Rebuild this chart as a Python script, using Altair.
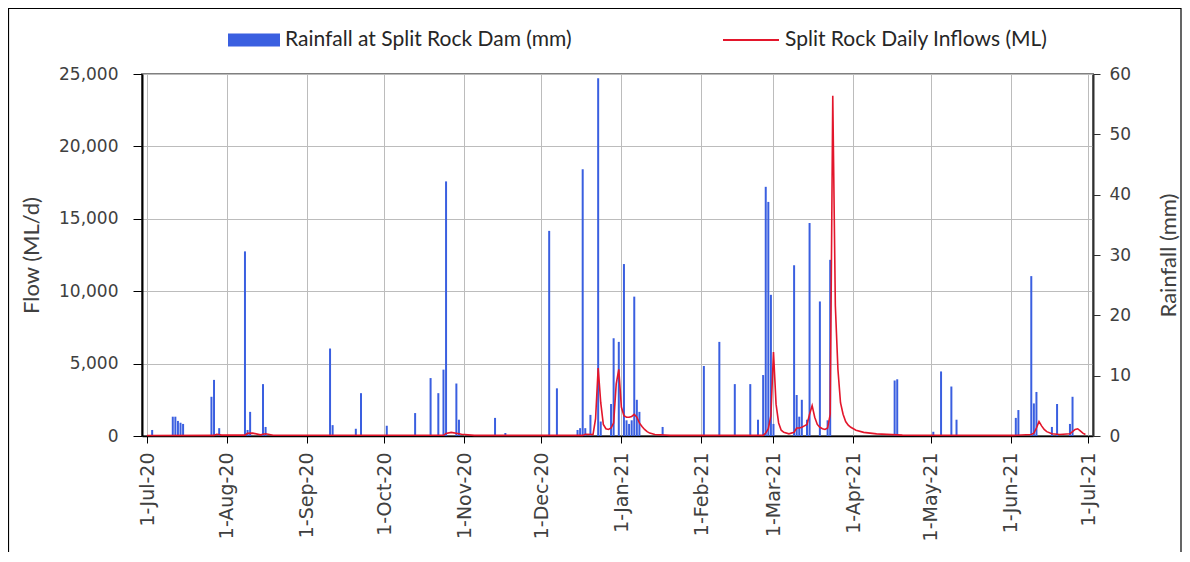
import altair as alt
import pandas as pd

# ---------------- data ----------------
rain_dates = [
    "2020-07-03", "2020-07-11", "2020-07-12", "2020-07-13", "2020-07-14", "2020-07-15",
    "2020-07-26", "2020-07-27", "2020-07-29",
    "2020-08-08", "2020-08-09", "2020-08-10", "2020-08-15", "2020-08-16",
    "2020-09-10", "2020-09-11", "2020-09-20", "2020-09-22",
    "2020-10-02", "2020-10-13", "2020-10-19", "2020-10-22", "2020-10-24", "2020-10-25",
    "2020-10-29", "2020-10-30",
    "2020-11-13", "2020-11-17",
    "2020-12-04", "2020-12-07", "2020-12-15", "2020-12-16", "2020-12-17", "2020-12-18",
    "2020-12-20", "2020-12-23", "2020-12-24", "2020-12-28", "2020-12-29", "2020-12-31",
    "2021-01-02", "2021-01-03", "2021-01-04", "2021-01-05", "2021-01-06", "2021-01-07",
    "2021-01-08", "2021-01-17",
    "2021-02-02", "2021-02-08", "2021-02-14", "2021-02-20", "2021-02-23", "2021-02-25",
    "2021-02-26", "2021-02-27", "2021-02-28",
    "2021-03-01", "2021-03-09", "2021-03-10", "2021-03-11", "2021-03-12", "2021-03-14",
    "2021-03-15", "2021-03-19", "2021-03-22", "2021-03-23",
    "2021-04-17", "2021-04-18",
    "2021-05-02", "2021-05-05", "2021-05-09", "2021-05-11",
    "2021-06-03", "2021-06-04", "2021-06-09", "2021-06-10", "2021-06-11", "2021-06-17",
    "2021-06-19", "2021-06-24", "2021-06-25",
]
rain_mm = [
    1.0, 3.2, 3.2, 2.5, 2.2, 2.0,
    6.5, 9.3, 1.3,
    30.6, 1.0, 4.0, 8.6, 1.5,
    14.5, 1.8, 1.2, 7.1,
    1.7, 3.8, 9.6, 7.1, 11.0, 42.2,
    8.7, 2.7,
    3.0, 0.5,
    34.0, 7.9, 1.0, 1.3, 44.2, 1.3,
    3.5, 59.3, 2.4, 5.3, 16.2, 15.6,
    28.5, 2.6, 2.0, 2.6, 23.1, 6.0,
    4.0, 1.5,
    11.6, 15.6, 8.6, 8.6, 2.7, 10.1,
    41.3, 38.8, 23.4,
    2.0, 28.3, 6.8, 3.2, 6.0, 2.7,
    35.3, 22.3, 2.6, 29.2,
    9.2, 9.4,
    0.7, 10.7, 8.2, 2.7,
    3.0, 4.3, 26.5, 5.4, 7.3, 1.5,
    5.3, 2.0, 6.5,
]

flow_dates = [
    "2020-07-01", "2020-07-27", "2020-07-28", "2020-07-30", "2020-08-08", "2020-08-09",
    "2020-08-11", "2020-08-14", "2020-08-16", "2020-08-19", "2020-10-24", "2020-10-25",
    "2020-10-27", "2020-10-31", "2020-11-05", "2020-12-17", "2020-12-18", "2020-12-21",
    "2020-12-22", "2020-12-23", "2020-12-24", "2020-12-25", "2020-12-26", "2020-12-27",
    "2020-12-28", "2020-12-29", "2020-12-30", "2020-12-31",
    "2021-01-01", "2021-01-02", "2021-01-03", "2021-01-04", "2021-01-05", "2021-01-06",
    "2021-01-07", "2021-01-08", "2021-01-09", "2021-01-10", "2021-01-11", "2021-01-12",
    "2021-01-14", "2021-01-20",
    "2021-02-25", "2021-02-26", "2021-02-27", "2021-02-28",
    "2021-03-01", "2021-03-02", "2021-03-03", "2021-03-04", "2021-03-05", "2021-03-07",
    "2021-03-09", "2021-03-10", "2021-03-11", "2021-03-12", "2021-03-13", "2021-03-14",
    "2021-03-15", "2021-03-16", "2021-03-17", "2021-03-18", "2021-03-19", "2021-03-20",
    "2021-03-21", "2021-03-22", "2021-03-23", "2021-03-24", "2021-03-25", "2021-03-26",
    "2021-03-27", "2021-03-28", "2021-03-29", "2021-03-30", "2021-03-31",
    "2021-04-02", "2021-04-05", "2021-04-10", "2021-04-20",
    "2021-06-02", "2021-06-09", "2021-06-10", "2021-06-11", "2021-06-12", "2021-06-13",
    "2021-06-14", "2021-06-15", "2021-06-17", "2021-06-20", "2021-06-24", "2021-06-25",
    "2021-06-26", "2021-06-27", "2021-06-28", "2021-06-29", "2021-06-30",
]
flow_ml = [
    30, 40, 120, 60, 60, 180,
    200, 80, 150, 50, 50, 180,
    250, 120, 40, 40, 120, 100,
    1200, 4700, 2300, 800, 500, 450,
    550, 900, 3600, 4600,
    2000, 1400, 1300, 1300, 1350, 1500,
    1300, 900, 650, 450, 300, 200,
    100, 40,
    40, 200, 500, 1400,
    5800, 2200, 900, 400, 250, 150,
    250, 550, 550, 600, 700, 800,
    1500, 2100, 1300, 800, 600, 500,
    450, 550, 1500, 23500, 9000, 4600,
    2300, 1500, 1000, 750, 600,
    400, 250, 150, 60,
    40, 100, 200, 550, 1000, 700,
    450, 300, 150, 100, 150, 300,
    450, 500, 350, 200, 100,
]

month_ticks = [(2020, 7), (2020, 8), (2020, 9), (2020, 10), (2020, 11), (2020, 12),
               (2021, 1), (2021, 2), (2021, 3), (2021, 4), (2021, 5), (2021, 6), (2021, 7)]
flow_ticks = [0, 5000, 10000, 15000, 20000, 25000]
rain_ticks = [0, 10, 20, 30, 40, 50, 60]

RAIN_LABEL = "Rainfall at Split Rock Dam (mm)"
FLOW_LABEL = "Split Rock Daily Inflows (ML)"
BLUE = "#3a5fe0"
RED = "#e3162b"
TXT = "#404040"
LABEL_FONT = "DejaVu Sans"
TITLE_FONT = "Lato"

W, H = 951, 362
PAD = {"left": 134, "top": 66, "right": 89, "bottom": 116}

rain_df = pd.DataFrame({"date": rain_dates, "rain": rain_mm, "series": RAIN_LABEL})
flow_df = pd.DataFrame({"date": flow_dates, "flow": flow_ml, "series": FLOW_LABEL})

x_values = [alt.DateTime(year=y, month=m, date=1, utc=True) for y, m in month_ticks]
x_enc = alt.X(
    "date:T",
    scale=alt.Scale(type="utc", domain=[x_values[0], x_values[-1]]),
    axis=alt.Axis(
        values=x_values, format="%-d-%b-%y", labelAngle=270, title=None,
        labelFont=LABEL_FONT, labelFontSize=19, labelColor=TXT, labelPadding=9,
        tickSize=7, tickColor="#000000", domainColor="#000000", domainWidth=1.5,
        grid=True, gridColor="#bcbcbc", gridWidth=1, labelOverlap=False, labelFlush=False,
    ),
)

RECT_PATH = "M-1,-0.25H1V0.25H-1Z"

bars = alt.Chart(rain_df).mark_bar(size=2).encode(
    x=x_enc,
    y=alt.Y(
        "rain:Q",
        scale=alt.Scale(domain=[0, 60], nice=False, zero=True),
        axis=alt.Axis(
            orient="right", values=rain_ticks, title="Rainfall (mm)", grid=False,
            labelFont=LABEL_FONT, labelFontSize=17, labelColor=TXT, labelPadding=9,
            tickSize=7, tickColor="#303030", domainColor="#303030", domainWidth=2,
            titleFont=TITLE_FONT, titleFontSize=22, titleFontWeight="normal",
            titleColor=TXT, titleAngle=270, titlePadding=50,
        ),
    ),
    fill=alt.Fill(
        "series:N",
        scale=alt.Scale(domain=[RAIN_LABEL], range=[BLUE]),
        legend=alt.Legend(
            title=None, orient="none", legendX=86, legendY=-60, padding=0,
            symbolType=RECT_PATH, symbolSize=2704, symbolStrokeWidth=0,
            symbolFillColor=BLUE, labelFont=TITLE_FONT, labelFontSize=21,
            labelColor="#262626", labelOffset=5, labelLimit=0,
        ),
    ),
)

line = alt.Chart(flow_df).mark_line(strokeWidth=1.6).encode(
    x=x_enc,
    y=alt.Y(
        "flow:Q",
        scale=alt.Scale(domain=[0, 25000], nice=False, zero=True),
        axis=alt.Axis(
            orient="left", values=flow_ticks, format=",d", title="Flow (ML/d)",
            grid=True, gridColor="#bcbcbc", gridWidth=1,
            labelFont=LABEL_FONT, labelFontSize=17, labelColor=TXT, labelPadding=15,
            tickSize=9, tickColor="#000000", domainColor="#000000", domainWidth=2,
            titleFont=TITLE_FONT, titleFontSize=22, titleFontWeight="normal",
            titleColor=TXT, titlePadding=15,
        ),
    ),
    stroke=alt.Stroke(
        "series:N",
        scale=alt.Scale(domain=[FLOW_LABEL], range=[RED]),
        legend=alt.Legend(
            title=None, orient="none", legendX=580, legendY=-63, padding=0,
            symbolType="stroke", symbolSize=3136, symbolStrokeWidth=2,
            labelFont=TITLE_FONT, labelFontSize=21, labelColor="#262626", labelOffset=5,
            labelLimit=0,
        ),
    ),
)

# decorative outer frame of the figure (not data)
frame = alt.Chart(pd.DataFrame({"k": [0]})).mark_rect(
    fill=None, stroke="#000000", strokeWidth=1.2
).encode(
    x=alt.value(-PAD["left"] + 0.5),
    x2=alt.value(W + PAD["right"] - 1),
    y=alt.value(-PAD["top"] + 0.5),
    y2=alt.value(H + PAD["bottom"] + 20),
)

chart = (
    alt.layer(bars, line, frame)
    .resolve_scale(y="independent", fill="independent", stroke="independent")
    .properties(
        width=W, height=H,
        autosize=alt.AutoSizeParams(type="none"),
        padding=PAD,
        background="#ffffff",
    )
    .configure_view(stroke="#808080", strokeWidth=2)
)

chart.save("out.html", embed_options={"renderer": "svg", "actions": False})
